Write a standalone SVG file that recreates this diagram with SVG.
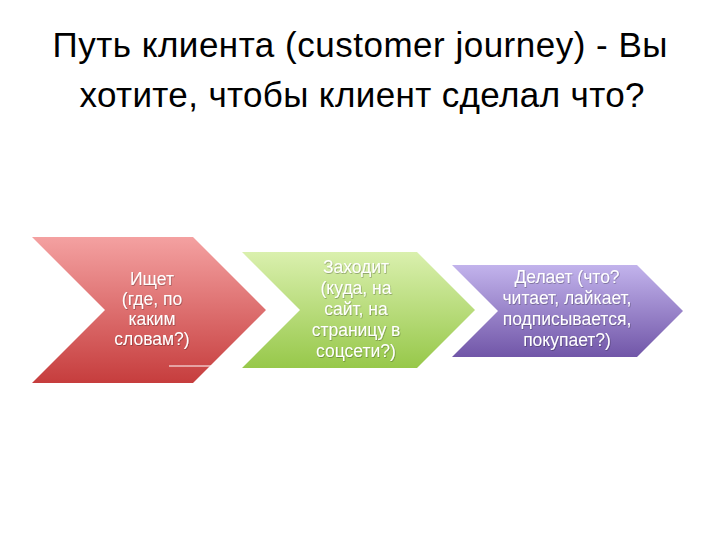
<svg xmlns="http://www.w3.org/2000/svg" width="720" height="540" viewBox="0 0 720 540">
  <defs>
    <linearGradient id="gRed" x1="0" y1="0" x2="0" y2="1">
      <stop offset="0" stop-color="#F4A1A1"/>
      <stop offset="1" stop-color="#C63D3D"/>
    </linearGradient>
    <linearGradient id="gGreen" x1="0" y1="0" x2="0" y2="1">
      <stop offset="0" stop-color="#DAF0AE"/>
      <stop offset="1" stop-color="#97C84A"/>
    </linearGradient>
    <linearGradient id="gPurple" x1="0" y1="0" x2="0" y2="1">
      <stop offset="0" stop-color="#C2B3EC"/>
      <stop offset="1" stop-color="#7156A8"/>
    </linearGradient>
    <filter id="tshadow" x="-10%" y="-10%" width="120%" height="130%">
      <feDropShadow dx="0.6" dy="0.8" stdDeviation="0.6" flood-color="#000" flood-opacity="0.35"/>
    </filter>
  </defs>
  <style>
    .title { font-family: "Liberation Sans", Arial, sans-serif; font-size: 35px; fill: #000; text-anchor: middle; }
    .lbl { font-family: "Liberation Sans", Arial, sans-serif; font-size: 17.5px; fill: #fff; text-anchor: middle; filter: url(#tshadow); }
  </style>
  <rect width="720" height="540" fill="#fff"/>

  <g id="title">
    <text class="title" x="360" y="57" textLength="615" lengthAdjust="spacing">Путь клиента (customer journey) - Вы</text>
    <text class="title" x="362" y="107" textLength="565" lengthAdjust="spacing">хотите, чтобы клиент сделал что?</text>
  </g>

  <g id="node-search">
    <polygon points="32,237 193,237 266,310 193,383 32,383 105,310" fill="url(#gRed)"/>
    <text class="lbl" x="152" y="285">Ищет</text>
    <text class="lbl" x="152" y="305">(где, по</text>
    <text class="lbl" x="152" y="325">каким</text>
    <text class="lbl" x="152" y="345">словам?)</text>
    <line x1="169" y1="366" x2="214" y2="366" stroke="#fff" stroke-width="1"/>
  </g>

  <g id="node-visit">
    <polygon points="242,252 417,252 475,310 417,368 242,368 300,310" fill="url(#gGreen)"/>
    <text class="lbl" x="356" y="273">Заходит</text>
    <text class="lbl" x="356" y="294">(куда, на</text>
    <text class="lbl" x="356" y="315">сайт, на</text>
    <text class="lbl" x="356" y="336">страницу в</text>
    <text class="lbl" x="356" y="357">соцсети?)</text>
  </g>

  <g id="node-action">
    <polygon points="452,265 637,265 683,311 637,357 452,357 498,311" fill="url(#gPurple)"/>
    <text class="lbl" x="567" y="283">Делает (что?</text>
    <text class="lbl" x="567" y="304">читает, лайкает,</text>
    <text class="lbl" x="567" y="325">подписывается,</text>
    <text class="lbl" x="567" y="346">покупает?)</text>
  </g>

  <g id="connectors"></g>
</svg>
